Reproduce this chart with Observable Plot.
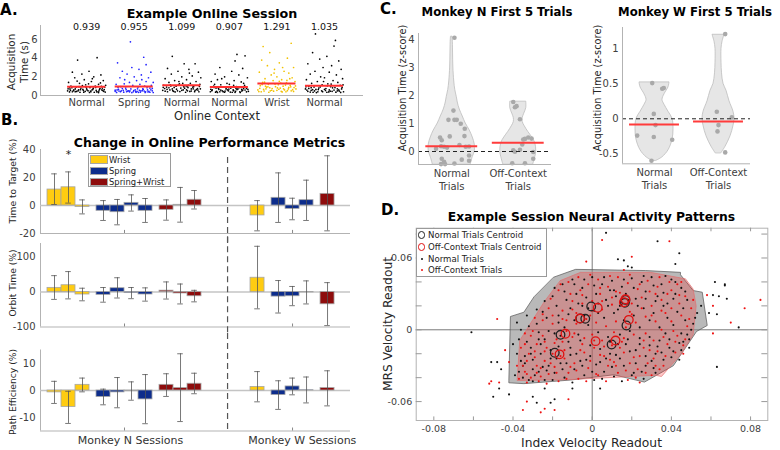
<!DOCTYPE html>
<html><head><meta charset="utf-8">
<script src="https://cdn.jsdelivr.net/npm/d3@7"></script>
<script src="https://cdn.jsdelivr.net/npm/@observablehq/plot@0.6"></script>
<style>
body{margin:0;background:#fff;}
#fig{position:relative;width:780px;height:450px;overflow:hidden;font-family:"DejaVu Sans",sans-serif;color:#262626;}
.abs{position:absolute;white-space:nowrap;line-height:1;}
</style></head><body><div id="fig"></div>
<script>
// ---------------- DATA ----------------
// Panel A
const contexts = ["Normal","Spring","Normal","Normal","Wrist","Normal"];
const ctxColors = ["#000000","#2222ff","#000000","#000000","#f2c200","#000000"];
const meanA = [0.939,0.955,1.099,0.907,1.291,1.035];
// [jitter (hundredths of a category), acquisition time (s)]
const ptsA1 = [[-19,3.8],[22,4.05],[-30,2.5],[5,2.6],[-10,2.3],[30,2.2],[-25,1.9],[15,2.0],[-5,1.7],[35,1.6],[-38,1.4],[10,1.5],[-15,1.3],[25,1.2],[-2,1.15],[-33,1.0],[18,1.0],[-22,0.9],[7,0.85],[38,0.9],[-12,0.8],[28,0.75],[-35,0.7],[0,0.7],[13,0.65],[-27,0.6],[32,0.6],[-7,0.55],[20,0.55],[-18,0.5],[3,0.5],[-40,0.5],[36,0.45],[-3,0.45],[24,0.4],[-30,0.4],[9,0.4],[-14,0.35],[16,0.35],[-24,0.7],[40,1.1],[-9,1.05],[29,1.35],[-36,0.9],[12,1.8],[-20,1.55],[4,1.25],[33,0.8],[-17,0.6],[26,0.5],
 [-36,0.38],[-28,0.52],[-21,0.44],[-13,0.62],[-6,0.36],[1,0.58],[8,0.47],[14,0.78],[21,0.39],[27,0.66],[34,0.53],[39,0.37],[-39,0.72],[-31,0.83],[-24,0.41],[-16,0.95],[-8,0.67],[-1,0.88],[6,0.32],[11,0.59],[19,0.86],[25,0.31],[31,0.98],[37,0.63],[-34,0.55]];
const ptsA2 = [[-8,5.75],[20,4.1],[-35,3.5],[25,3.3],[-5,3.0],[10,2.8],[-25,2.6],[35,2.5],[-15,2.3],[15,2.2],[0,2.0],[-30,1.9],[30,1.9],[-20,1.7],[5,1.6],[25,1.5],[-10,1.4],[40,1.4],[-38,1.2],[12,1.2],[-3,1.1],[22,1.0],[-28,0.95],[8,0.9],[33,0.8],[-18,0.8],[-7,0.7],[18,0.7],[-33,0.65],[28,0.6],[2,0.6],[-23,0.55],[14,0.5],[-12,0.5],[38,0.5],[-40,0.45],[6,0.45],[-2,0.4],[24,0.4],[-16,0.4],[31,0.45],[-27,0.5],[11,0.55],[-36,0.6],[19,0.65],[-9,0.5],[4,0.35],[36,1.1],[-21,1.25],[16,1.7],
 [-37,0.33],[-29,0.41],[-22,0.36],[-14,0.47],[-5,0.31],[3,0.42],[9,0.34],[17,0.52],[23,0.33],[29,0.38],[35,0.61],[40,0.32],[-40,0.57],[-32,0.48],[-25,0.74],[-17,0.62],[-10,0.39],[-1,0.53],[7,0.71],[13,0.37],[21,0.47],[27,0.83],[33,0.35],[38,0.76],[-34,0.86]];
const ptsA3 = [[-20,4.2],[5,3.4],[28,3.4],[-30,2.9],[15,2.8],[-8,2.6],[35,2.5],[-22,2.3],[22,2.1],[0,2.0],[-35,1.8],[10,1.7],[-15,1.6],[30,1.5],[-27,1.4],[18,1.3],[-5,1.25],[38,1.2],[-38,1.1],[7,1.05],[-12,1.0],[25,0.95],[-32,0.9],[13,0.85],[-2,0.8],[33,0.75],[-20,0.7],[20,0.7],[-25,0.6],[3,0.6],[-40,0.55],[28,0.55],[-9,0.5],[12,0.5],[-17,0.45],[36,0.4],[-30,0.4],[8,0.35],[23,0.9],[-6,1.5],[40,1.9],[-24,1.15],[16,2.4],[-36,0.75],[2,1.3],
 [-35,0.46],[-27,0.83],[-19,0.52],[-11,0.68],[-4,0.42],[4,0.93],[10,0.61],[17,0.44],[24,0.72],[31,0.63],[37,0.97],[-39,0.88],[-31,0.66],[-23,1.02],[-14,0.38],[-7,1.12],[0,0.55],[6,0.79],[14,1.08],[20,0.48],[27,0.41],[34,0.58],[39,0.71],[-16,0.86],[11,0.96]];
const ptsA4 = [[16,4.4],[33,4.25],[12,3.7],[-20,3.0],[28,2.9],[5,2.6],[-30,2.3],[20,2.2],[-10,2.0],[38,1.9],[-25,1.7],[10,1.6],[-38,1.5],[25,1.45],[-5,1.3],[0,1.2],[-18,1.15],[32,1.1],[-33,1.0],[15,0.95],[-12,0.9],[22,0.85],[-28,0.8],[3,0.8],[36,0.75],[-7,0.7],[18,0.7],[-22,0.65],[8,0.6],[-36,0.6],[28,0.55],[-15,0.5],[-2,0.5],[13,0.45],[-27,0.45],[40,0.45],[-40,0.4],[22,0.4],[6,0.35],[-10,0.35],[30,1.3],[-16,1.8],[-31,1.2],[9,1.1],[26,0.65],[-4,0.6],
 [-37,0.52],[-29,0.36],[-23,0.78],[-13,0.41],[-6,0.83],[2,0.37],[9,0.52],[16,0.63],[23,0.32],[30,0.74],[36,0.39],[-39,0.67],[-32,0.87],[-25,0.33],[-18,0.58],[-9,0.47],[-1,0.69],[5,0.92],[12,0.34],[19,0.88],[26,0.48],[33,0.59],[39,0.66],[-20,0.4],[14,0.76]];
const ptsA5 = [[-29,5.25],[30,5.6],[-15,4.6],[22,4.0],[-32,3.8],[5,3.5],[-20,3.2],[35,3.0],[-5,2.8],[15,2.6],[-37,2.5],[25,2.4],[-12,2.2],[0,2.0],[32,1.9],[-25,1.8],[10,1.7],[-8,1.6],[38,1.5],[-30,1.4],[20,1.35],[-18,1.2],[3,1.15],[28,1.1],[-35,1.05],[13,1.0],[-3,0.95],[-22,0.9],[36,0.85],[7,0.8],[-10,0.75],[24,0.7],[-28,0.65],[16,0.6],[-40,0.6],[0,0.55],[30,0.5],[-14,0.5],[9,0.45],[-33,0.4],[19,0.4],[-6,2.4],[12,3.0],[-24,1.0],[40,0.7],[-17,0.35],[27,1.8],
 [-36,0.77],[-27,0.48],[-19,0.93],[-11,0.56],[-4,1.22],[4,0.67],[11,0.38],[18,1.12],[25,0.86],[33,0.62],[39,1.03],[-38,0.42],[-31,1.17],[-23,0.71],[-15,0.83],[-7,0.46],[1,0.81],[8,1.32],[14,0.72],[22,0.52],[29,0.93],[35,0.44],[-26,1.43],[5,1.52],[21,1.62]];
const ptsA6 = [[-19,6.6],[23,5.9],[20,5.3],[-25,4.6],[5,4.2],[-10,3.9],[30,3.7],[-35,3.4],[15,3.2],[-3,3.0],[35,2.8],[-20,2.6],[10,2.5],[-30,2.3],[25,2.2],[-8,2.0],[0,1.9],[38,1.8],[-38,1.7],[18,1.6],[-15,1.5],[28,1.4],[-27,1.3],[7,1.25],[-5,1.15],[33,1.1],[-33,1.0],[13,0.95],[-22,0.9],[22,0.85],[-12,0.8],[3,0.75],[-40,0.7],[36,0.7],[-18,0.65],[10,0.6],[-28,0.55],[27,0.5],[-6,0.5],[16,0.45],[-35,0.45],[40,0.4],[-14,0.4],[5,0.35],[-24,0.35],[30,0.6],[-2,1.5],
 [-37,0.58],[-30,0.37],[-21,0.49],[-13,0.63],[-4,0.41],[2,0.54],[9,0.38],[17,0.82],[24,0.36],[31,0.47],[37,0.87],[-39,0.93],[-33,0.76],[-25,0.62],[-17,0.31],[-9,0.92],[0,0.67],[6,1.04],[12,0.46],[20,0.58],[27,0.72],[34,0.33],[39,1.14],[-28,0.84],[14,1.22]];

// Panel B
const barX = [1,2,3,4.5,5.5,6.5,7.5,9,10,11,15.5,17,18,19,20.5];
const barCond = ["Wrist","Wrist","Wrist","Spring","Spring","Spring","Spring","Spring+Wrist","Spring+Wrist","Spring+Wrist","Wrist","Spring","Spring","Spring","Spring+Wrist"];
const condNames = ["Wrist","Spring","Spring+Wrist"];
const condColors = ["#ffcc11","#0d2d8c","#8e0c0c"];
const ttt   = [11.4,13,-1,-3.8,-4.8,1.9,-3.8,-3.1,0.5,4.1,-7.1,5.5,-2.4,3.8,8.3];
const tttHi = [22.6,24,4,3.5,4.3,7.6,5,4,12.9,10.7,3.5,23.3,5.2,18.1,35.5];
const tttLo = [0.7,1.7,-6,-10.7,-13.8,-4,-12.1,-10.5,-11.9,-2.5,-18.1,-12.1,-10.2,-10.7,-18.1];
const orb   = [12,19.5,-7,-8,11,-3,-7,4,-4,-12,41,-13,-12,-1,-35];
const orbHi = [47,58.6,11,13,41,13,12,29,23,5,131,33,16,32,27];
const orbLo = [-21,-19.5,-25,-29,-17,-19,-26,-20,-34,-28,-48,-60,-39,-34,-96];
const pe    = [-0.7,-6.1,2.1,-2.4,-0.7,-0.3,-3.3,2.1,0.9,2.5,1.3,-1.7,1.5,0.1,0.9];
const peHi  = [3.4,-0.3,4.6,0.5,4.8,3.2,5.9,6.2,13.6,6.4,7,3.6,4.6,5,7.3];
const peLo  = [-4.8,-12.2,-0.5,-5.3,-6.4,-3.6,-12.3,-2.2,-11.5,-1.2,-4.2,-7,-1.6,-4.6,-5.7];
const sessionLabels = ["Monkey N Sessions","Monkey W Sessions"];

// Panel C : violin outlines [z, half-width px], points [jitter px, z], means
const cCats = ["Normal\nTrials","Off-Context\nTrials"];
const violNL = [[-0.46,19],[-0.2,21],[0,23],[0.25,23],[0.5,21],[0.75,18],[1,14],[1.25,11],[1.5,8],[1.75,6],[1.95,5],[2.2,3.5],[2.5,2.5],[3,1.6],[3.5,1.3],[3.9,1.1],[4.1,0.8]];
const violOL = [[-0.46,15],[-0.2,17],[0,18],[0.3,17],[0.5,14],[0.7,10],[0.9,6.5],[1.05,4.5],[1.2,4.5],[1.35,6],[1.55,8],[1.78,8]];
const violNR = [[-0.6,2],[-0.55,8],[-0.45,14],[-0.3,18],[-0.15,19],[0,18],[0.1,14],[0.2,10],[0.27,8],[0.35,10],[0.45,14],[0.52,15]];
const violOR = [[-0.49,3],[-0.4,7],[-0.25,12],[-0.1,15],[0,16],[0.1,15],[0.25,11],[0.4,8],[0.5,5],[0.65,3.5],[0.8,3],[1.0,3],[1.1,4],[1.2,6]];
const ptsNL = [[2.7,4.06],[1.7,1.46],[-3.3,1.13],[2.7,1.13],[5,1.13],[9,0.99],[-2,0.54],[13,0.81],[12.7,0.55],[-11.7,0.5],[-10,0.4],[-10.7,0.19],[-7.7,0.17],[-4.7,0.14],[7.7,0.23],[14,0.17],[17.3,0.18],[-15.7,0.1],[17.3,-0.14],[10,-0.29],[-10,-0.26],[-7.7,-0.37],[17.3,-0.33],[-10.7,-0.45],[-6.7,-0.45],[2.7,-0.43]];
const ptsOL = [[-5,1.77],[-3.3,1.58],[-1.7,1.62],[1.7,1.15],[10,0.5],[5,0.43],[13.3,0.46],[4,0.25],[-5,0.04],[-3.3,-0.01],[1.7,0.06],[15,-0.02],[15,-0.26],[-6,-0.42],[6.7,-0.42],[6.7,0.45]];
const ptsNR = [[-2.3,0.51],[7.7,0.43],[9.3,0.44],[-0.7,0.07],[1,-0.09],[-17.3,-0.24],[-0.7,-0.26],[17.7,-0.3],[-3,-0.6]];
const ptsOR = [[6.7,1.21],[-1.7,0.1],[13.3,0.02],[0,-0.09],[-1,-0.18],[6.7,-0.48]];
const meanCL = [0.19,0.31];
const meanCR = [-0.08,-0.04];

// Panel D : readouts in thousandths [x, y, x, y, ...]
const dNormal = [-35,-40,-30,-33,-38,-20,-33,-10,-36,0,-28,5,-25,15,-20,28,-15,38,-10,42,-5,35,0,44,5,38,10,41,15,36,20,43,25,40,30,44,35,38,40,42,45,35,48,25,42,30,38,22,33,28,27,32,22,26,17,30,12,28,7,25,2,30,-3,27,-8,30,-13,25,-18,20,-23,10,-27,-2,-31,-15,-34,-28,-29,-38,-24,-42,-19,-36,-14,-40,-9,-33,-4,-38,1,-42,6,-35,11,-39,16,-30,21,-36,26,-41,31,-32,36,-25,41,-18,46,-10,50,0,47,8,43,15,38,10,34,2,29,-6,24,-12,19,-18,14,-24,9,-20,4,-27,-1,-22,-6,-26,-11,-21,-16,-28,-21,-24,-26,-20,-30,-25,-24,-8,-19,-3,-14,2,-9,8,-4,12,1,16,6,10,11,14,16,8,21,12,26,18,31,14,36,20,41,4,45,-3,39,-8,33,-14,27,-22,22,-28,13,-12,8,-6,3,-2,-2,4,-7,-4,-12,-10,-17,-14,-22,-30,-27,-35,-32,-42,-37,-35,52,10,55,20,49,-15,44,-25,18,-8,24,2,29,8,3,22,-11,18,-17,12,-5,20,9,33,14,20,32,-20,37,-3,
 -39,-38,-34,-22,-37,-8,-32,3,-26,-12,-21,-17,-16,-5,-11,-15,-6,-9,-1,-13,4,-16,9,-10,14,-4,19,-1,24,-7,29,-13,34,-9,39,-15,44,-11,48,-4,51,5,46,18,41,26,36,31,31,37,26,45,21,35,16,42,11,33,6,44,1,37,-4,42,-9,38,-14,32,-19,35,-24,24,-28,17,-33,12,-38,6,-40,-12,-35,-30,-30,-43,-25,-31,-20,-42,-15,-33,-10,-44,-5,-30,0,-35,5,-41,10,-31,15,-43,20,-38,25,-35,30,-26,35,-19,40,-23,45,-17,49,-8,53,14,47,32,42,40,37,45,32,24,27,26,23,20,18,25,13,17,8,20,3,14,-2,18,-7,22,-12,13,-17,6,-22,-1,-27,-8,-31,-20,-36,-26,-23,-34,-18,-24,-13,-28,-8,-20,-3,-25,2,-29,7,-24,12,-21,17,-12,22,-17,27,-30,32,-36,
 -61,-2,-51,-27,-48,-27,-50,-56,-47,-49,-42,-54,-46,-33,-30,-56,-28,-61,-24,-49,-21,-61,-19,-58,-10,-49,7,81,33,74,44,64,13,59,16,58,18,53,20,52,42,55,62,40,67,38,67,37,61,29,64,28,68,26,59,14,63,13,74,2,63,-31,4,-49];
const dOff = [-33,-37,-28,-30,-36,-15,-31,-5,-25,8,-22,18,-17,33,-12,40,-7,44,-2,38,3,42,8,36,13,44,18,39,23,34,28,41,33,36,38,30,43,38,47,28,40,18,35,25,30,20,25,27,20,22,15,26,10,21,5,17,0,24,-5,29,-10,24,-15,16,-20,5,-25,-5,-29,-18,-33,-26,-27,-43,-22,-37,-17,-43,-12,-36,-7,-41,-2,-32,3,-38,8,-30,13,-36,18,-42,23,-33,28,-28,33,-18,38,-12,43,-5,48,3,45,12,40,7,35,0,31,-9,26,-15,21,-23,16,-19,11,-27,6,-22,1,-15,-4,-19,-9,-28,-14,-24,-19,-31,-24,-26,-28,-12,-23,-15,-18,-8,-13,-1,-8,5,-3,9,2,6,7,3,12,7,17,2,22,6,27,11,32,7,37,14,42,-10,46,-20,36,-30,30,-38,24,-44,15,-10,10,-13,5,-9,0,-4,-5,-12,-10,-6,-15,-10,-20,-20,-26,-32,-31,-40,-35,-30,50,18,44,22,27,-3,19,15,4,30,-8,14,-13,8,12,32,32,30,-1,12,
 -37,-41,-32,-20,-34,-3,-29,10,-24,-18,-19,-11,-14,-17,-9,-3,-4,-7,1,-9,6,-14,11,-2,16,-7,21,-4,26,-9,31,-24,36,-6,41,-1,46,-13,49,9,44,29,39,40,34,44,29,32,24,38,19,46,14,31,9,45,4,35,-1,46,-6,33,-11,30,-16,38,-21,26,-25,13,-30,-1,-34,-12,-38,-30,-33,-44,-28,-36,-23,-45,-18,-36,-13,-41,-8,-34,-3,-43,2,-37,7,-43,12,-30,17,-34,22,-40,27,-36,32,-30,37,-22,42,-19,47,-8,51,25,45,40,40,33,35,16,30,12,25,18,20,13,15,21,10,27,5,24,0,16,-5,22,-10,17,-15,9,-20,12,-24,-10,-29,-23,-34,-35,-26,-39,-21,-28,-16,-22,-11,-31,-6,-17,-1,-26,4,-21,9,-25,14,-15,19,-28,24,-22,29,-17,34,-33,
 -48,9,-52,-45,-51,-43,-47,-44,-44,-17,-42,-27,-35,-67,-33,-60,-26,-69,-24,-66,-19,-67,-12,-58,5,75,39,74,-3,57,20,61,16,50,58,29,61,20,70,6,77,18,85,25,61,-3];
const centN = [[-0.5,19.5],[16.5,22.5],[16.8,25],[-3.5,9.2],[-6,9.5],[17.3,3.6],[-16,-4.2],[9.8,-12.3],[-18.9,-19.2]];
const centO = [[2.8,18.4],[-6.2,9.4],[18.5,8.3],[16.8,25.5],[-13.5,-3.3],[1.7,-9.5],[11.8,-9],[-16.5,-20.5],[16,23]];
const hullN = [[-19.4,44],[-8.4,50.5],[26.9,49.5],[44.6,48],[44.6,46],[51,32.8],[55.6,31.4],[58.1,3.6],[52.7,-1.4],[41,-30],[26.4,-43.7],[10.9,-37.6],[-11,-42],[-34.5,-45],[-42.1,-44.3],[-42.1,-42.4],[-41.3,11.1],[-34.5,14.7],[-29.5,27.3]];
const hullO = [[-16,41.2],[-5.9,48],[29.4,48],[47.1,42.6],[51,34],[52.5,20],[51,-4],[45,-20],[35,-39],[32,-38],[-11,-41.6],[-37.9,-42.4],[-36.6,-8.9],[-24.4,23]];

// ---------------- HELPERS ----------------
const fig = document.getElementById("fig");
const FONT = '"DejaVu Sans", sans-serif';
const AX = "#b3b3b3";
const style = {fontFamily: FONT, fontSize: "10px", color: "#404040", background: "none", overflow: "visible"};
function mount(node, left, top){ node.style.position="absolute"; node.style.left=left+"px"; node.style.top=top+"px"; fig.appendChild(node); }
function txt(s, x, y, o={}){
  const {size=11, weight="normal", rotate=0, color="#262626", anchor="middle"} = o;
  const d=document.createElement("div"); d.className="abs"; d.textContent=s;
  d.style.fontSize=size+"px"; d.style.fontWeight=weight; d.style.color=color;
  d.style.left=x+"px"; d.style.top=y+"px";
  const tx = anchor==="middle"?"-50%":anchor==="end"?"-100%":"0";
  d.style.transform=`translate(${tx},-50%) rotate(${rotate}deg)`;
  fig.appendChild(d); return d;
}
function box(left, top, w, h, css){ const d=document.createElement("div"); d.style.position="absolute"; d.style.left=left+"px"; d.style.top=top+"px"; d.style.width=w+"px"; d.style.height=h+"px"; Object.assign(d.style, css); fig.appendChild(d); return d; }

// ---------------- PANEL A ----------------
const ptsA = [ptsA1,ptsA2,ptsA3,ptsA4,ptsA5,ptsA6].flatMap((arr,i)=>arr.map(([dx,y])=>({x:i+1+dx/100, y, c:ctxColors[i]})));
const meanTab = meanA.map((m,i)=>({i:i+1, m}));
mount(Plot.plot({
  width: 370, height: 112, marginLeft: 40, marginRight: 7, marginTop: 25, marginBottom: 17,
  x: {domain: [0.03, 6.82]}, y: {domain: [0, 7.5]}, color: {type: "identity"}, style,
  marks: [
    Plot.ruleX([0.03], {stroke: AX}),
    Plot.ruleY([0], {stroke: AX}),
    Plot.axisY({ticks: [0,2,4,6], tickSize: 0, tickPadding: 3, tickFormat: d=>String(d), label: null, fontSize: 10}),
    Plot.axisX({ticks: [1,2,3,4,5,6], tickSize: 0, tickPadding: 3, tickFormat: d=>contexts[d-1], label: null, fontSize: 10}),
    Plot.dot(ptsA, {x: "x", y: "y", r: 0.85, fill: "c", stroke: null}),
    Plot.ruleY(meanTab, {y: "m", x1: d=>d.i-0.4, x2: d=>d.i+0.4, stroke: "#ff3030", strokeWidth: 2}),
    Plot.text(meanTab, {x: "i", y: 7.3, text: d=>d.m.toFixed(3), fontSize: 9.5, fill: "#111"})
  ]
}), 0, 0);
txt("Example Online Session", 212, 13.5, {size: 12.7, weight: "bold", color: "#000"});
txt("Online Context", 217, 117, {size: 11.5});
txt("Acquisition", 11, 62, {size: 10.3, rotate: -90});
txt("Time (s)", 23.5, 62, {size: 10.3, rotate: -90});
txt("A.", 0, 10, {size: 15, weight: "bold", color: "#000", anchor: "start"});

// ---------------- PANEL B ----------------
const bars = barX.map((x,i)=>({x, col: condColors[condNames.indexOf(barCond[i])], ttt: ttt[i], tttHi: tttHi[i], tttLo: tttLo[i], orb: orb[i], orbHi: orbHi[i], orbLo: orbLo[i], pe: pe[i], peHi: peHi[i], peLo: peLo[i]}));
function bSub({top, height, mt, mb, dom, ticks, key, tick, dash, extra=[]}){
  const p = Plot.plot({
    width: 370, height, marginLeft: 40, marginRight: 20, marginTop: mt, marginBottom: mb,
    x: {domain: [0, 22.14], axis: null}, y: {domain: dom}, color: {type: "identity"}, style,
    marks: [
      Plot.ruleX([0], {stroke: AX}),
      Plot.ruleY([dom[0]], {stroke: AX}),
      Plot.ruleX([6, 18], {y1: dom[0], y2: dom[0] + tick, stroke: "#888"}),
      Plot.axisY({ticks, tickSize: 0, tickPadding: 5, tickFormat: d=>String(d), label: null, fontSize: 10}),
      Plot.ruleY([0], {x1: 0, x2: 22.14, stroke: "#c4c4c4", strokeWidth: 1.6}),
      Plot.ruleX([13.36], {y1: dash[0], y2: dash[1], stroke: "#555", strokeWidth: 1.2, strokeDasharray: "6,4"}),
      Plot.rect(bars, {x1: d=>d.x-0.5, x2: d=>d.x+0.5, y1: 0, y2: key, fill: "col", stroke: "#a6a6a6", strokeWidth: 0.8}),
      Plot.ruleX(bars, {x: "x", y1: key+"Lo", y2: key+"Hi", stroke: "#555", strokeWidth: 0.8}),
      Plot.ruleY(bars, {y: key+"Hi", x1: d=>d.x-0.2, x2: d=>d.x+0.2, stroke: "#555", strokeWidth: 0.8}),
      Plot.ruleY(bars, {y: key+"Lo", x1: d=>d.x-0.2, x2: d=>d.x+0.2, stroke: "#555", strokeWidth: 0.8}),
      ...extra
    ]
  });
  mount(p, 0, top);
}
bSub({top: 140, height: 105, mt: 9, mb: 12, dom: [-20, 40], ticks: [-20,0,20,40], key: "ttt", tick: 2.2, dash: [34.3, -28.6],
  extra: [Plot.text(["*"], {x: 2, y: 36.5, text: d=>d, fontSize: 11, fill: "#222"})]});
bSub({top: 236, height: 100, mt: 7, mb: 9.5, dom: [-100, 139], ticks: [-100,0,100], key: "orb", tick: 8.6, dash: [158, -127]});
bSub({top: 333, height: 117, mt: 16.5, mb: 19.5, dom: [-15, 15], ticks: [-10,0,10], key: "pe", tick: 1.1, dash: [21.1, -15],
  extra: [Plot.text(sessionLabels, {x: [6.43, 18.7], y: -15, dy: 9.5, text: d=>d, fontSize: 11, fill: "#333", lineAnchor: "middle"})]});
txt("Change in Online Performance Metrics", 209.5, 142.5, {size: 12.5, weight: "bold", color: "#000"});
txt("B.", 1, 120, {size: 15, weight: "bold", color: "#000", anchor: "start"});
txt("Time to Target (%)", 13, 181, {size: 9.2, rotate: -90});
txt("Orbit Time (%)", 13, 283, {size: 9.2, rotate: -90});
txt("Path Efficiency (%)", 13, 392, {size: 9.2, rotate: -90});
// legend
box(88, 153, 83, 34, {background: "#fff", border: "1px solid #9a9a9a", boxSizing: "border-box"});
condNames.forEach((n,i)=>{
  const y = [155, 166.5, 177.5][i];
  box(89.5, y, 18, 8.8, {background: condColors[i], border: "1px solid #a6a6a6", boxSizing: "border-box"});
  txt(n, 109, y + 4.6, {size: 8.4, anchor: "start", color: "#222"});
});

// ---------------- PANEL C ----------------
function cPanel({left, width, ml, mr, mt, mb, dom, ticks, unit, viols, pts, means}){
  const vm = viols.map((v,ci)=>Plot.areaX(v, {y: d=>d[0], x1: d=>ci+1-d[1]/unit, x2: d=>ci+1+d[1]/unit, fill: "#e6e6e6", stroke: "#bdbdbd", strokeWidth: 0.8, curve: "catmull-rom"}));
  const dots = pts.flatMap((arr,ci)=>arr.map(([dx,y])=>({x: ci+1+dx/unit, y})));
  const mt2 = means.map((m,ci)=>({c: ci+1, m}));
  mount(Plot.plot({
    width, height: 175, marginLeft: ml, marginRight: mr, marginTop: mt, marginBottom: mb,
    x: {domain: [0.5, 2.5], axis: null}, y: {domain: dom}, style,
    marks: [
      ...vm,
      Plot.dot(dots, {x: "x", y: "y", r: 2.3, fill: "#a9a9a9", stroke: null}),
      Plot.ruleY([0], {stroke: "#222", strokeDasharray: "4,3", strokeWidth: 1}),
      Plot.ruleY(mt2, {y: "m", x1: d=>d.c-0.39, x2: d=>d.c+0.39, stroke: "#ff3b3b", strokeWidth: 2}),
      Plot.ruleX([0.5], {stroke: AX}),
      Plot.ruleY([dom[0]], {stroke: AX}),
      Plot.axisY({ticks, tickSize: 0, tickPadding: 4, tickFormat: d=>String(d), label: null, fontSize: 10}),
      Plot.text(cCats, {x: [1, 2], y: dom[0], dy: 3, text: d=>d, lineAnchor: "top", fontSize: 10, fill: "#404040", lineHeight: 1.3})
    ]
  }), left, 20);
}
cPanel({left: 380, width: 180, ml: 38, mr: 9, mt: 13, mb: 31, dom: [-0.464, 4.214], ticks: [0,1,2,3,4], unit: 66.5,
  viols: [violNL, violOL], pts: [ptsNL, ptsOL], means: meanCL});
cPanel({left: 560, width: 220, ml: 62, mr: 30, mt: 7, mb: 31.7, dom: [-0.643, 1.304], ticks: [-0.5,0,0.5,1], unit: 64,
  viols: [violNR, violOR], pts: [ptsNR, ptsOR], means: meanCR});
txt("Monkey N First 5 Trials", 497, 13, {size: 11.7, weight: "bold", color: "#000"});
txt("Monkey W First 5 Trials", 695, 13, {size: 11.7, weight: "bold", color: "#000"});
txt("Acquisition Time (z-score)", 403, 88, {size: 9.8, rotate: -90});
txt("Acquisition Time (z-score)", 598, 88, {size: 9.8, rotate: -90});
txt("C.", 380, 9, {size: 15, weight: "bold", color: "#000", anchor: "start"});

// ---------------- PANEL D ----------------
const pairs = (flat, k)=>{ const out=[]; for(let i=0;i<flat.length;i+=2) out.push({x: flat[i]/1000, y: flat[i+1]/1000, k}); return out; };
const dPts = [...pairs(dNormal, "n"), ...pairs(dOff, "o")];
const hN = hullN.map(([x,y])=>({x: x/1000, y: y/1000}));
const hO = hullO.map(([x,y])=>({x: x/1000, y: y/1000}));
const cN = centN.map(([x,y])=>({x: x/1000, y: y/1000}));
const cO = centO.map(([x,y])=>({x: x/1000, y: y/1000}));
const XD = [-0.0889, 0.0887], YD = [-0.0758, 0.0849];
const xt = [-0.08,-0.06,-0.04,-0.02,0,0.02,0.04,0.06,0.08];
const yt = [-0.06,-0.04,-0.02,0,0.02,0.04,0.06,0.08];
mount(Plot.plot({
  width: 400, height: 235, marginLeft: 35.7, marginRight: 12.7, marginTop: 12.7, marginBottom: 30,
  x: {domain: XD}, y: {domain: YD}, style,
  marks: [
    Plot.ruleX([0], {stroke: "#7a7a7a", strokeWidth: 1}),
    Plot.ruleY([0], {stroke: "#7a7a7a", strokeWidth: 1}),
    Plot.line(hN, {x: "x", y: "y", curve: "linear-closed", fill: "#8a8a8a", fillOpacity: 0.6, stroke: "#555", strokeWidth: 0.7}),
    Plot.line(hO, {x: "x", y: "y", curve: "linear-closed", fill: "#ff1a1a", fillOpacity: 0.24, stroke: "#e07070", strokeWidth: 0.7}),
    Plot.dot(dPts, {x: "x", y: "y", r: 1.05, fill: d=>d.k==="n" ? "#111" : "#ee1111", stroke: null}),
    Plot.dot(cN, {x: "x", y: "y", r: 4.3, stroke: "#222", strokeWidth: 1.3, fill: "none"}),
    Plot.dot(cO, {x: "x", y: "y", r: 4.3, stroke: "#e01010", strokeWidth: 1.3, fill: "none"}),
    Plot.frame({stroke: AX}),
    Plot.ruleX(xt, {y1: YD[0], y2: YD[0]+0.003, stroke: "#999"}),
    Plot.ruleX(xt, {y1: YD[1]-0.003, y2: YD[1], stroke: "#999"}),
    Plot.ruleY(yt, {x1: XD[0], x2: XD[0]+0.003, stroke: "#999"}),
    Plot.ruleY(yt, {x1: XD[1]-0.003, x2: XD[1], stroke: "#999"}),
    Plot.axisX({ticks: [-0.08,-0.04,0,0.04,0.08], tickSize: 0, tickPadding: 5, tickFormat: d=>String(d), label: null, fontSize: 9.5}),
    Plot.axisY({ticks: [-0.06,0,0.06], tickSize: 0, tickPadding: 4, tickFormat: d=>String(d), label: null, fontSize: 9.5})
  ]
}), 380, 215);
txt("Example Session Neural Activity Patterns", 591.5, 216.5, {size: 12.3, weight: "bold", color: "#000"});
txt("Index Velocity Readout", 591.5, 443, {size: 12.3});
txt("MRS Velocity Readout", 388, 324, {size: 12.3, rotate: -90});
txt("D.", 381, 210, {size: 15, weight: "bold", color: "#000", anchor: "start"});
// legend D
box(415.7, 227.7, 131, 49, {background: "#fff", border: "1px solid #9a9a9a", boxSizing: "border-box"});
const legD = [["Normal Trials Centroid","ring","#222"],["Off-Context Trials Centroid","ring","#e01010"],["Normal Trials","dot","#111"],["Off-Context Trials","dot","#ee1111"]];
legD.forEach(([t,kind,c],i)=>{
  const y = [235, 247, 259, 270.3][i];
  if(kind==="ring") box(418, y-3.6, 7.2, 7.2, {border: "1.3px solid "+c, borderRadius: "50%", boxSizing: "border-box"});
  else box(420.5, y-1.2, 2.4, 2.4, {background: c, borderRadius: "50%"});
  txt(t, 428, y, {size: 8.6, anchor: "start", color: "#222"});
});
</script></body></html>
